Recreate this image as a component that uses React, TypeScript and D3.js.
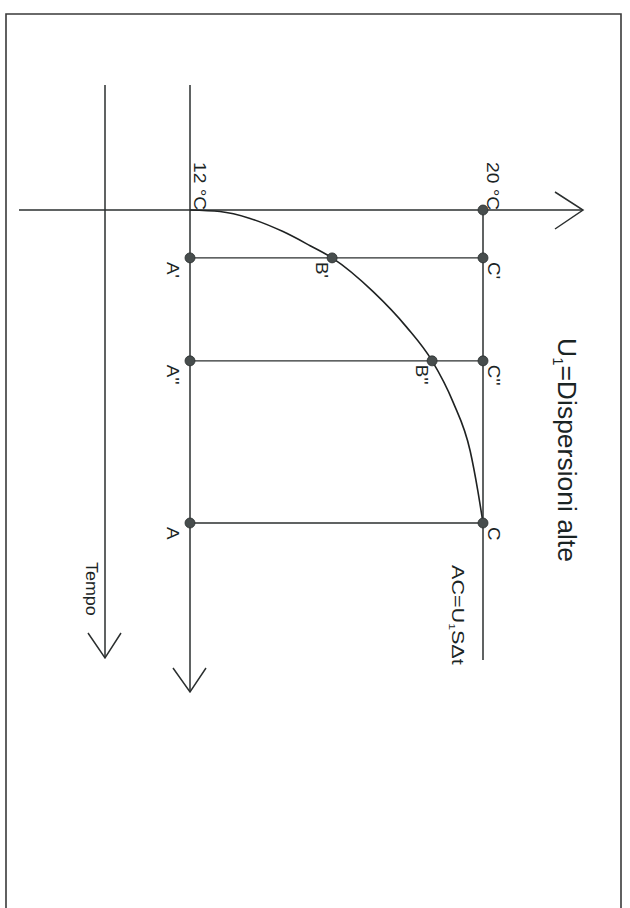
import React from "react";
import * as d3 from "d3";

// ---- data ----
const tempEnds = [12, 20]; // °C : the two vertical reference lines
const tempLabels = ["12 °C", "20 °C"];
const rowNames = ["A'", "A''", "A"];
const rowTimes = [1.53, 4.82, 10];
const bNames = ["B'", "B''"];
const bTemps = [15.88, 18.61];
const cNames = ["C'", "C''", "C"];
const curveTemps = [12, 12.82, 13.64, 14.54, 15.28, 15.88, 17.0, 17.92, 18.61, 19.18, 19.65, 19.86, 20];
const curveTimes = [0, 0.05, 0.27, 0.69, 1.14, 1.53, 2.61, 3.75, 4.82, 6.13, 7.7, 8.98, 10];
const titleText = "Dispersioni alte";
const formulaText = "SΔt";
const timeLabel = "Tempo";

const W = 630;
const H = 908;
const INK = "#2b2f2f";
const TXT = "#1a2424";
const FONT = "'Liberation Sans', Arial, sans-serif";

export default function App() {
  const x = d3.scaleLinear().domain([12, 20]).range([190, 483]);
  const y = d3.scaleLinear().domain([0, 10]).range([210, 523]);

  const curvePts: [number, number][] = curveTemps.map((t, i) => [t, curveTimes[i]]);
  const line = d3
    .line<[number, number]>()
    .x((d) => x(d[0]))
    .y((d) => y(d[1]))
    .curve(d3.curveMonotoneX);

  const x12 = x(tempEnds[0]);
  const x20 = x(tempEnds[1]);
  const y0 = y(0);

  const rot = (tx: number, ty: number, s = 1) =>
    `translate(${tx},${ty}) rotate(90) scale(${s},1)`;

  const dot = (cx: number, cy: number, key: string) => (
    <circle key={key} cx={cx} cy={cy} r={5} fill="#474d4d" stroke="#2a2e2e" strokeWidth={0.8} />
  );

  return (
    <svg
      width={W}
      height={H}
      style={{ position: "absolute", left: 0, top: 0, background: "#fff" }}
      fontFamily={FONT}
    >
      {/* page frame */}
      <path d={`M6,930 L6,14 L621,14 L621,930`} fill="none" stroke="#3a3a3a" strokeWidth={1.6} />

      {/* temperature axis (horizontal) */}
      <line x1={19} y1={y0} x2={583} y2={y0} stroke={INK} strokeWidth={1.5} />
      <polyline points={`555,${y0 - 18} 583,${y0} 555,${y0 + 19}`} fill="none" stroke={INK} strokeWidth={1.5} />

      {/* Tempo axis */}
      <line x1={105} y1={85} x2={105} y2={658} stroke={INK} strokeWidth={1.5} />
      <polyline points={`88,633 105,658 121,633`} fill="none" stroke={INK} strokeWidth={1.5} />
      <text transform={rot(86, 562, 1.12)} fontSize={16} fill={TXT}>
        {timeLabel}
      </text>

      {/* 12 °C line with arrow */}
      <line x1={x12} y1={85} x2={x12} y2={692} stroke={INK} strokeWidth={1.5} />
      <polyline points={`${x12 - 17},668 ${x12},692 ${x12 + 16},668`} fill="none" stroke={INK} strokeWidth={1.5} />

      {/* 20 °C line */}
      <line x1={x20} y1={y0} x2={x20} y2={660} stroke={INK} strokeWidth={1.5} />

      {/* horizontal rows A-C */}
      {rowTimes.map((t, i) => (
        <line key={"row" + i} x1={x12} y1={y(t)} x2={x20} y2={y(t)} stroke={INK} strokeWidth={1.4} />
      ))}

      {/* curve */}
      <path d={line(curvePts) || ""} fill="none" stroke="#1f2222" strokeWidth={1.6} />

      {/* dots */}
      {dot(x20, y0, "d20")}
      {rowTimes.map((t, i) => dot(x12, y(t), "a" + i))}
      {rowTimes.map((t, i) => dot(x20, y(t), "c" + i))}
      {bTemps.map((bt, i) => dot(x(bt), y(rowTimes[i]), "b" + i))}

      {/* temperature labels */}
      {tempEnds.map((t, i) => (
        <text key={"tl" + i} transform={rot(x(t) + 4, 162, 1.2)} fontSize={16} fill={TXT}>
          {tempLabels[i]}
        </text>
      ))}

      {/* point labels */}
      {rowTimes.map((t, i) => (
        <text key={"al" + i} transform={rot(x12 - 23, y(t) + 4, 1.1)} fontSize={17} fill={TXT}>
          {rowNames[i]}
        </text>
      ))}
      {bTemps.map((bt, i) => (
        <text key={"bl" + i} transform={rot(x(bt) - 16, y(rowTimes[i]) + 4, 1.1)} fontSize={17} fill={TXT}>
          {bNames[i]}
        </text>
      ))}
      {rowTimes.map((t, i) => (
        <text key={"cl" + i} transform={rot(x20 + 5, y(t) + 4, 1.1)} fontSize={17} fill={TXT}>
          {cNames[i]}
        </text>
      ))}

      {/* formula AC=U1 SΔt */}
      <text transform={rot(452, 565, 1.35)} fontSize={16} fill={TXT}>
        AC=U
        <tspan fontSize={9} dy={3}>1</tspan>
        <tspan dy={-3}>{formulaText}</tspan>
      </text>

      {/* title */}
      <text transform={rot(558, 338, 1.06)} fontSize={25} fill={TXT}>
        U
        <tspan fontSize={14} dy={5}>1</tspan>
        <tspan dy={-5}>={titleText}</tspan>
      </text>
    </svg>
  );
}
